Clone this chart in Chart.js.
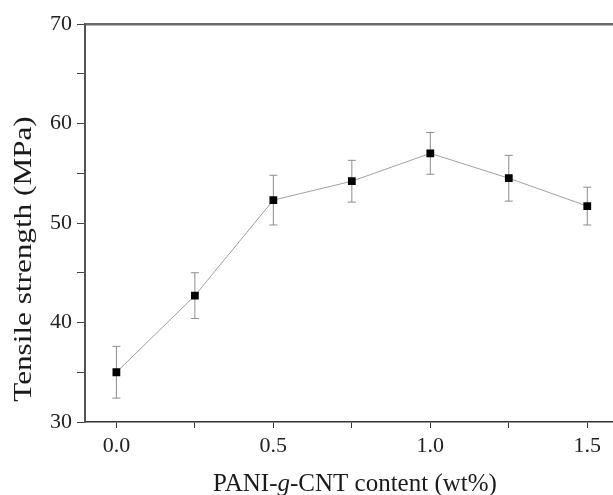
<!DOCTYPE html>
<html>
<head>
<meta charset="utf-8">
<script src="https://cdn.jsdelivr.net/npm/chart.js@4.4.1/dist/chart.umd.min.js"></script>
<style>
  html, body { margin: 0; padding: 0; background: #fff; overflow: hidden; }
</style>
</head>
<body>
<canvas id="grafico_tensao" width="643" height="495"></canvas>
<script>
      // ---------- dados ----------
      const contents = [0, 0.25, 0.5, 0.75, 1.0, 1.25, 1.5];      // wt%
      const strength = [35.0, 42.7, 52.3, 54.2, 57.0, 54.5, 51.7]; // MPa
      const errors   = [2.6, 2.3, 2.5, 2.1, 2.1, 2.3, 1.9];
      const yTicks = [30, 40, 50, 60, 70];
      const xTicks = [0.0, 0.5, 1.0, 1.5];

      const serif = '"Liberation Serif", "DejaVu Serif", serif';

      // barras de erro desenhadas com as escalas do Chart.js
      const errorBars = {
        id: 'errorBars',
        beforeDatasetsDraw(chart) {
          const { ctx, scales: { x, y } } = chart;
          ctx.save();
          ctx.strokeStyle = '#8c8c8c';
          ctx.lineWidth = 1;
          contents.forEach((c, i) => {
            const px = x.getPixelForValue(c);
            const top = y.getPixelForValue(strength[i] + errors[i]);
            const bot = y.getPixelForValue(strength[i] - errors[i]);
            ctx.beginPath();
            ctx.moveTo(px, top); ctx.lineTo(px, bot);
            ctx.moveTo(px - 4, top); ctx.lineTo(px + 4, top);
            ctx.moveTo(px - 4, bot); ctx.lineTo(px + 4, bot);
            ctx.stroke();
          });
          ctx.restore();
        }
      };

      // títulos dos eixos (com o "g" em itálico)
      const axisTitles = {
        id: 'axisTitles',
        afterDraw(chart) {
          const { ctx, chartArea } = chart;
          ctx.save();
          ctx.fillStyle = '#1a1a1a';
          ctx.textBaseline = 'alphabetic';
          // eixo x
          const parts = [
            ['PANI-', 'normal'], ['g', 'italic'], ['-CNT content (wt%)', 'normal']
          ];
          const size = 25;
          let total = 0;
          parts.forEach(p => { ctx.font = p[1] + ' ' + size + 'px ' + serif; total += ctx.measureText(p[0]).width; });
          let xx = chartArea.left + 270 - total / 2;
          const yy = chartArea.bottom + 69;
          ctx.textAlign = 'left';
          parts.forEach(p => {
            ctx.font = p[1] + ' ' + size + 'px ' + serif;
            ctx.fillText(p[0], xx, yy);
            xx += ctx.measureText(p[0]).width;
          });
          // eixo y (um pouco esticado, como no original)
          ctx.translate(chartArea.left - 54, chartArea.top + 235);
          ctx.rotate(-Math.PI / 2);
          ctx.scale(1.2, 1);
          ctx.textAlign = 'center';
          ctx.font = '26px ' + serif;
          ctx.fillText('Tensile strength (MPa)', 0, 0);
          ctx.restore();
        }
      };

      const ctx1 = document.getElementById('grafico_tensao').getContext('2d');
      new Chart(ctx1, {
        type: 'line',
        data: {
          datasets: [{
            label: 'Tensile strength',
            data: contents.map((c, i) => ({ x: c, y: strength[i] })),
            borderColor: '#a0a0a0',
            borderWidth: 1,
            pointStyle: 'rect',
            pointRadius: 5.5,
            pointBackgroundColor: '#000',
            pointBorderColor: '#000',
            pointBorderWidth: 0,
            tension: 0
          }]
        },
        options: {
          responsive: false,
          animation: false,
          layout: { padding: 0 },
          plugins: {
            legend: { display: false },
            tooltip: { enabled: false },
            title: { display: false }
          },
          scales: {
            x: {
              type: 'linear',
              position: 'bottom',
              min: -0.1,
              max: 1.66,
              afterFit: s => { s.height = 73; },
              grid: { display: true, drawOnChartArea: false, tickLength: 6, color: '#333' },
              border: { display: true, color: '#333', width: 1.5 },
              ticks: {
                stepSize: 0.25,
                includeBounds: false,
                autoSkip: false,
                maxRotation: 0,
                padding: 5,
                color: '#222',
                font: { family: serif, size: 22 },
                callback: v => xTicks.some(t => Math.abs(t - v) < 1e-6) ? v.toFixed(1) : ''
              }
            },
            xTop: {
              type: 'linear',
              position: 'top',
              min: -0.1,
              max: 1.66,
              afterFit: s => { s.height = 24; },
              grid: { display: false },
              border: { display: true, color: '#6a6a6a', width: 2.5 },
              ticks: { display: false }
            },
            y: {
              min: 30,
              max: 70,
              afterFit: s => { s.width = 85; },
              grid: { display: true, drawOnChartArea: false, tickLength: 8, color: '#444' },
              border: { display: true, color: '#555', width: 2 },
              ticks: {
                stepSize: 5,
                includeBounds: false,
                autoSkip: false,
                padding: 5,
                color: '#222',
                font: { family: serif, size: 22 },
                callback: v => yTicks.includes(v) ? String(v) : ''
              }
            }
          }
        },
        plugins: [errorBars, axisTitles]
      });
</script>
</body>
</html>
